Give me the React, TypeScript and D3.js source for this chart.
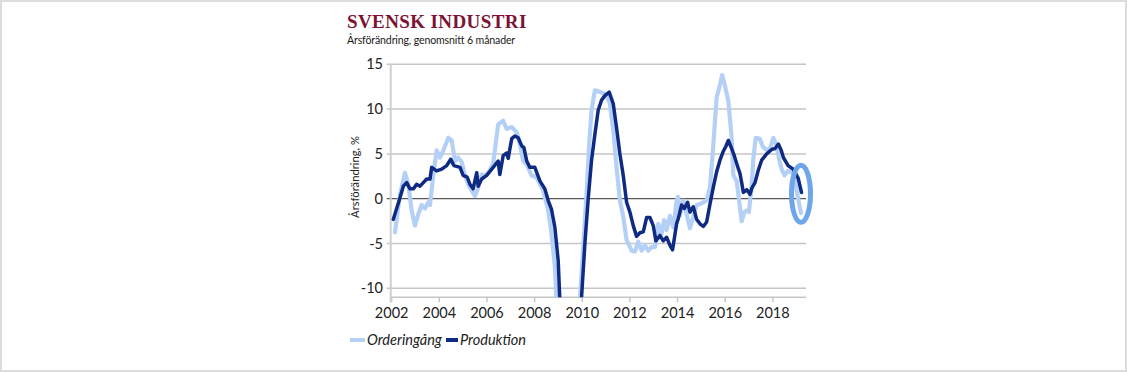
import {useEffect, useRef} from 'react';
import * as d3 from 'd3';

// Orderingång (light blue), decimal year / % change
const orderYears = [
    2002.14, 2002.35, 2002.56, 2002.70, 2002.84, 2002.98, 2003.12, 2003.26, 2003.40, 2003.54,
    2003.61, 2003.75, 2003.89, 2004.03, 2004.17, 2004.38, 2004.52, 2004.66, 2004.79, 2004.94,
    2005.08, 2005.21, 2005.36, 2005.50, 2005.63, 2005.78, 2005.92, 2006.05, 2006.26, 2006.47,
    2006.68, 2006.83, 2007.04, 2007.25, 2007.38, 2007.52, 2007.67, 2007.87, 2008.08, 2008.36,
    2008.57, 2008.71, 2008.85, 2008.92, 2009.0, 2009.4, 2009.85, 2009.90, 2010.04, 2010.18,
    2010.29, 2010.39, 2010.53, 2010.74, 2010.95, 2011.05, 2011.16, 2011.30, 2011.44, 2011.58,
    2011.72, 2011.86, 2012.07, 2012.21, 2012.35, 2012.49, 2012.63, 2012.77, 2012.91, 2013.05,
    2013.19, 2013.33, 2013.44, 2013.54, 2013.68, 2013.82, 2013.96, 2014.02, 2014.10, 2014.24,
    2014.38, 2014.52, 2014.66, 2014.80, 2014.94, 2015.08, 2015.22, 2015.36, 2015.50, 2015.64,
    2015.78, 2015.87, 2015.99, 2016.13, 2016.27, 2016.34, 2016.48, 2016.62, 2016.69, 2016.80,
    2016.92, 2016.99, 2017.09, 2017.18, 2017.28, 2017.45, 2017.58, 2017.70, 2017.87, 2018.02,
    2018.15, 2018.26, 2018.38, 2018.49, 2018.63, 2018.77, 2018.91, 2019.00, 2019.08, 2019.18,
];
const orderValues = [
    -3.75, 0.5, 2.9, 1.6, -1.3, -3.0, -1.7, -0.7, -1.1, -0.4,
    -0.7, 2.7, 5.4, 4.6, 5.4, 6.8, 6.5, 4.2, 4.6, 4.1,
    2.6, 1.6, 0.9, 0.3, 1.2, 2.7, 2.6, 2.9, 3.9, 8.3,
    8.7, 7.8, 8.0, 7.4, 6.1, 4.2, 3.8, 2.6, 2.4, 0.9,
    -1.3, -3.9, -7.6, -11.4, -14, -25, -15, -11.3, -5.4, 0.6,
    6.1, 9.9, 12.1, 11.9, 11.7, 11.3, 10.6, 7.6, 3.5, -0.2,
    -2.0, -4.6, -5.8, -5.9, -4.8, -5.8, -5.2, -5.8, -5.4, -5.4,
    -2.8, -3.9, -2.4, -3.5, -1.9, -3.2, -0.2, 0.2, -1.9, -0.2,
    -1.7, -3.3, -2.0, -0.7, -0.6, -0.4, -0.2, 1.3, 6.0, 11.3,
    12.7, 13.8, 12.6, 10.9, 6.8, 2.6, 2.0, -1.0, -2.5, -1.5,
    -1.3, -1.5, 0.8, 4.5, 6.8, 6.7, 5.8, 5.5, 5.5, 6.8,
    6.0, 4.4, 3.2, 2.6, 3.1, 3.0, 2.5, 0.9, -0.3, -1.6,
];

// Produktion (dark blue)
const prodYears = [
    2002.07, 2002.35, 2002.49, 2002.63, 2002.77, 2002.91, 2003.05, 2003.19, 2003.33, 2003.47,
    2003.61, 2003.68, 2003.89, 2004.10, 2004.31, 2004.48, 2004.61, 2004.87, 2005.00, 2005.17,
    2005.29, 2005.42, 2005.57, 2005.63, 2005.78, 2005.99, 2006.26, 2006.47, 2006.54, 2006.68,
    2006.83, 2006.89, 2007.04, 2007.17, 2007.31, 2007.46, 2007.55, 2007.67, 2007.80, 2008.01,
    2008.22, 2008.43, 2008.57, 2008.71, 2008.85, 2008.99, 2009.06, 2009.1, 2009.5, 2009.93,
    2009.97, 2010.11, 2010.25, 2010.39, 2010.53, 2010.67, 2010.81, 2010.95, 2011.13, 2011.30,
    2011.44, 2011.58, 2011.72, 2011.86, 2012.00, 2012.14, 2012.28, 2012.42, 2012.56, 2012.70,
    2012.84, 2012.98, 2013.09, 2013.26, 2013.40, 2013.54, 2013.68, 2013.79, 2013.96, 2014.03,
    2014.17, 2014.28, 2014.42, 2014.52, 2014.66, 2014.80, 2014.94, 2015.08, 2015.22, 2015.36,
    2015.50, 2015.64, 2015.78, 2015.92, 2016.02, 2016.13, 2016.24, 2016.38, 2016.52, 2016.62,
    2016.69, 2016.76, 2016.91, 2017.04, 2017.12, 2017.25, 2017.39, 2017.53, 2017.74, 2017.95,
    2018.09, 2018.23, 2018.35, 2018.44, 2018.64, 2018.85, 2019.06, 2019.20,
];
const prodValues = [
    -2.3, 0.1, 1.4, 1.8, 1.1, 1.1, 1.6, 1.4, 1.8, 2.2,
    2.2, 3.5, 3.1, 3.3, 3.7, 4.4, 3.7, 3.5, 2.6, 2.4,
    1.6, 1.1, 2.9, 1.4, 2.2, 2.6, 3.5, 4.2, 2.7, 4.8,
    5.1, 4.5, 6.7, 7.0, 6.8, 5.9, 5.7, 4.2, 3.5, 3.5,
    2.0, 1.1, -0.2, -1.2, -3.2, -6.9, -11.4, -13, -21, -14,
    -11, -5.0, 0.0, 4.3, 7.2, 9.9, 11.0, 11.5, 11.9, 10.6,
    7.9, 5.0, 2.6, -0.4, -1.5, -3.0, -4.2, -3.8, -3.7, -2.1,
    -2.1, -3.0, -4.7, -4.1, -4.7, -4.3, -5.2, -5.7, -2.8, -2.2,
    -0.7, -1.1, -0.4, -1.5, -0.9, -2.3, -2.8, -3.1, -2.6, -0.6,
    1.3, 3.0, 4.3, 5.3, 5.8, 6.5, 5.8, 4.8, 3.6, 2.8,
    1.8, 0.7, 1.0, 0.5, 1.2, 1.8, 3.2, 4.3, 5.0, 5.5,
    5.6, 6.1, 5.4, 4.6, 3.7, 3.3, 2.3, 0.7,
];

const xTicks = [2002, 2004, 2006, 2008, 2010, 2012, 2014, 2016, 2018];
const yTicks = [-10, -5, 0, 5, 10, 15];
const xExtent = [2001.96, 2019.39];
const yExtent = [-11, 15];

const seriesNames = ['Orderingång', 'Produktion'];
const seriesColors = ['#b5d0f6', '#0f2a82'];
const seriesWidths = [4.2, 3.5];

export default function App() {
    const ref = useRef(null);

    useEffect(() => {
        const width = 1127;
        const height = 372;
        const svg = d3.select(ref.current);
        svg.selectAll('*').remove();
        svg.attr('width', width).attr('height', height);

        const left = 390.7;
        const right = 806;
        const top = 64.3;
        const bottom = 297.3;

        const x = d3.scaleLinear().domain(xExtent).range([left, right]);
        const y = d3.scaleLinear().domain(yExtent).range([bottom, top]);

        // outer frame
        svg.append('rect')
            .attr('x', 1).attr('y', 1)
            .attr('width', width - 2).attr('height', height - 2)
            .attr('fill', '#fff')
            .attr('stroke', '#dcdcdc')
            .attr('stroke-width', 2);

        // title
        svg.append('text')
            .attr('x', 347).attr('y', 28)
            .attr('font-family', '"Liberation Serif", serif')
            .attr('font-weight', 'bold')
            .attr('font-size', 19)
            .attr('letter-spacing', 0.4)
            .attr('fill', '#7d1232')
            .text('SVENSK INDUSTRI');

        svg.append('text')
            .attr('x', 347).attr('y', 43.5)
            .attr('font-family', 'Lato, sans-serif')
            .attr('font-size', 10.6)
            .attr('letter-spacing', -0.15)
            .attr('fill', '#1a1a1a')
            .text('Årsförändring, genomsnitt 6 månader');

        // grid lines (with small tick stubs left of the axis)
        svg.append('g')
            .selectAll('line')
            .data(yTicks)
            .enter()
            .append('line')
            .attr('x1', left - 4)
            .attr('x2', right)
            .attr('y1', (d) => y(d))
            .attr('y2', (d) => y(d))
            .attr('stroke', (d) => (d === 0 ? '#5a5a5a' : '#c6c6c6'))
            .attr('stroke-width', (d) => (d === 0 ? 1.2 : 1.5));

        // bottom axis line + ticks
        svg.append('line')
            .attr('x1', left).attr('x2', right)
            .attr('y1', bottom).attr('y2', bottom)
            .attr('stroke', '#c6c6c6').attr('stroke-width', 1.5);

        svg.append('g')
            .selectAll('line')
            .data(xTicks)
            .enter()
            .append('line')
            .attr('x1', (d) => x(d))
            .attr('x2', (d) => x(d))
            .attr('y1', bottom)
            .attr('y2', bottom + 5)
            .attr('stroke', '#c6c6c6')
            .attr('stroke-width', 1.5);

        // left axis line
        svg.append('line')
            .attr('x1', left).attr('x2', left)
            .attr('y1', top).attr('y2', bottom + 5)
            .attr('stroke', '#cfcfcf').attr('stroke-width', 2);

        // tick labels
        svg.append('g')
            .selectAll('text')
            .data(yTicks)
            .enter()
            .append('text')
            .attr('x', 383)
            .attr('y', (d) => y(d))
            .attr('dy', '0.35em')
            .attr('text-anchor', 'end')
            .attr('font-family', 'Lato, sans-serif')
            .attr('font-size', 14.5)
            .attr('fill', '#222')
            .text((d) => d);

        svg.append('g')
            .selectAll('text')
            .data(xTicks)
            .enter()
            .append('text')
            .attr('x', (d) => x(d))
            .attr('y', 313)
            .attr('dy', '0.35em')
            .attr('text-anchor', 'middle')
            .attr('font-family', 'Lato, sans-serif')
            .attr('font-size', 14.5)
            .attr('fill', '#222')
            .text((d) => d);

        // y axis title
        svg.append('text')
            .attr('transform', 'translate(358.5, 177) rotate(-90)')
            .attr('text-anchor', 'middle')
            .attr('font-family', 'Lato, sans-serif')
            .attr('font-size', 11.2)
            .attr('fill', '#222')
            .text('Årsförändring, %');

        // lines, clipped to the plot area
        svg.append('clipPath')
            .attr('id', 'plot-clip')
            .append('rect')
            .attr('x', left).attr('y', top - 10)
            .attr('width', right - left).attr('height', bottom - top + 10);

        const line = d3
            .line()
            .x((d) => x(d[0]))
            .y((d) => y(d[1]));

        const series = [
            d3.zip(orderYears, orderValues),
            d3.zip(prodYears, prodValues),
        ];

        svg.append('g')
            .attr('clip-path', 'url(#plot-clip)')
            .selectAll('path')
            .data(series)
            .enter()
            .append('path')
            .attr('d', (d) => line(d))
            .attr('fill', 'none')
            .attr('stroke', (d, i) => seriesColors[i])
            .attr('stroke-width', (d, i) => seriesWidths[i])
            .attr('stroke-linejoin', 'round')
            .attr('stroke-linecap', 'round');

        // highlight ring around the latest values
        const lastYear = orderYears[orderYears.length - 1];
        svg.append('ellipse')
            .attr('cx', x(lastYear))
            .attr('cy', y(0.55))
            .attr('rx', 9.5)
            .attr('ry', 28.5)
            .attr('fill', 'none')
            .attr('stroke', '#6fa6ea')
            .attr('stroke-width', 5);

        // legend
        const legendX = [350, 446];
        const legend = svg.append('g')
            .selectAll('g')
            .data(seriesNames)
            .enter()
            .append('g')
            .attr('transform', (d, i) => `translate(${legendX[i]}, 340)`);

        legend.append('line')
            .attr('x1', 0).attr('x2', (d, i) => (i === 0 ? 15 : 12))
            .attr('y1', 0).attr('y2', 0)
            .attr('stroke', (d, i) => seriesColors[i])
            .attr('stroke-width', 4);

        legend.append('text')
            .attr('x', (d, i) => (i === 0 ? 17 : 14))
            .attr('y', 0)
            .attr('dy', '0.35em')
            .attr('font-family', 'Lato, sans-serif')
            .attr('font-style', 'italic')
            .attr('font-size', 14.5)
            .attr('fill', '#222')
            .text((d) => d);
    }, []);

    return (
        <div style={{position: 'absolute', left: 0, top: 0}}>
            <svg ref={ref} style={{display: 'block'}}></svg>
        </div>
    );
}
